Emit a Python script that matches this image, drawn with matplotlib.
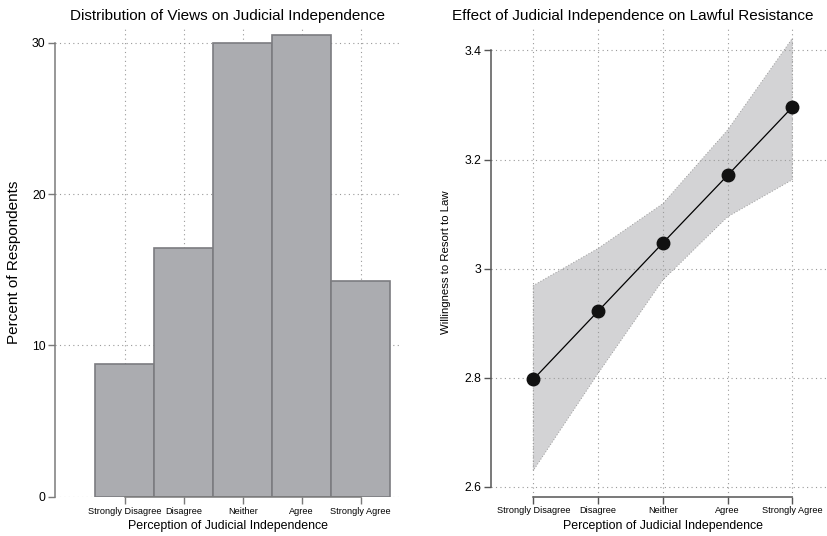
import numpy as np
import matplotlib
matplotlib.use("Agg")
from matplotlib import pyplot as plt

plt.rcParams['font.family'] = ['Liberation Sans', 'DejaVu Sans']

categories = ["Strongly Disagree", "Disagree", "Neither", "Agree", "Strongly Agree"]
percent = [8.8, 16.45, 30.0, 30.5, 14.25]

fitted = [2.797, 2.922, 3.047, 3.171, 3.296]
ci_low = [2.630, 2.808, 2.979, 3.095, 3.163]
ci_high = [2.969, 3.037, 3.119, 3.254, 3.422]

pos = np.arange(1, len(categories) + 1)

fig = plt.figure(figsize=(8.27, 5.36), dpi=100)
ax1 = fig.add_axes([0.0669, 0.0728, 0.4168, 0.875])
ax2 = fig.add_axes([0.5937, 0.0733, 0.4051, 0.8744])

grid_kw = dict(color="#9a9a9a", linestyle=(0, (1, 3)), linewidth=0.8)


def style_axes(ax, spine_col):
    for s in ["top", "right"]:
        ax.spines[s].set_visible(False)
    for s in ["left", "bottom"]:
        ax.spines[s].set_color(spine_col)
        ax.spines[s].set_linewidth(1.1)
    ax.tick_params(axis="both", color=spine_col, length=5, width=1.0, pad=2)
    ax.tick_params(axis="x", labelsize=6.6)
    ax.tick_params(axis="y", labelsize=8.8)
    ax.grid(True, **grid_kw)


# left: distribution of responses
ax1.set_axisbelow(True)
ax1.bar(pos, percent, width=1.0, color="#abacb0", edgecolor="#7c7c80",
        linewidth=1.2, zorder=2)
ax1.set_xlim(-0.176, 5.666)
ax1.set_ylim(0, 30.96)
ax1.set_xticks(pos)
ax1.set_xticklabels(categories)
ax1.set_yticks([0, 10, 20, 30])
ax1.spines["left"].set_bounds(0, 30)
ax1.spines["bottom"].set_bounds(1, 5)
style_axes(ax1, "#7a7a7a")
ax1.set_title("Distribution of Views on Judicial Independence", fontsize=11, pad=6)
ax1.set_xlabel("Perception of Judicial Independence", fontsize=8.9, labelpad=3)
ax1.set_ylabel("Percent of Respondents", fontsize=11, labelpad=8)

# right: predicted willingness with confidence band
ax2.set_axisbelow("line")
ax2.fill_between(pos, ci_low, ci_high, facecolor="#d3d3d5", edgecolor="#9a9a9a",
                 linestyle=(0, (1, 2)), linewidth=0.7, zorder=1)
ax2.plot(pos, fitted, color="black", linewidth=0.9, marker="o", markersize=9,
         markerfacecolor="#111111", markeredgecolor="#111111", zorder=3)
ax2.set_xlim(0.347, 5.52)
ax2.set_ylim(2.582, 3.441)
ax2.set_xticks(pos)
ax2.set_xticklabels(categories)
ax2.set_yticks([2.6, 2.8, 3.0, 3.2, 3.4])
ax2.set_yticklabels(["2.6", "2.8", "3", "3.2", "3.4"])
ax2.spines["left"].set_bounds(2.6, 3.4)
ax2.spines["bottom"].set_bounds(1, 5)
style_axes(ax2, "#555555")
ax2.set_title("Effect of Judicial Independence on Lawful Resistance", fontsize=11,
              pad=6, x=0.424)
ax2.set_xlabel("Perception of Judicial Independence", fontsize=8.9, labelpad=3,
               x=0.5125)
ax2.set_ylabel("Willingness to Resort to Law", fontsize=8.2, labelpad=10)

fig.savefig("out.png", dpi=100)
